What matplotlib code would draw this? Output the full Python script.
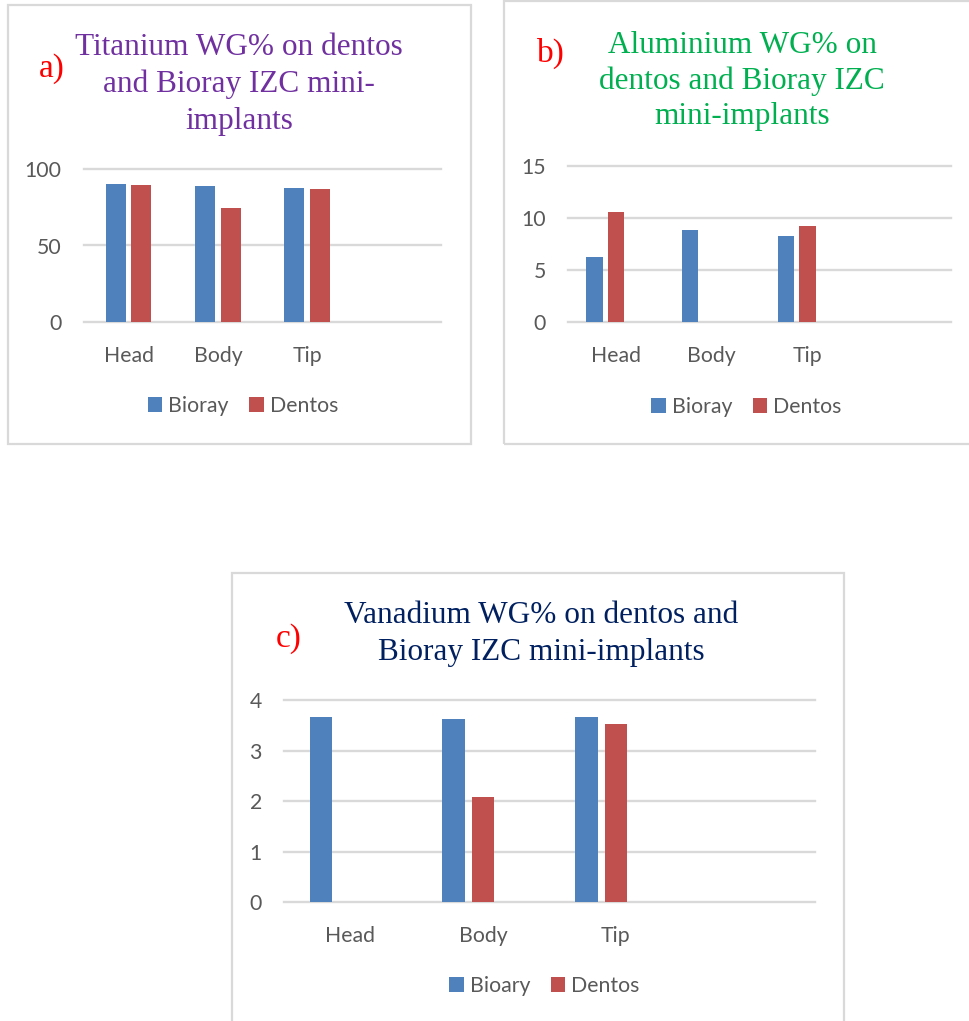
import matplotlib
matplotlib.use("Agg")
import matplotlib.pyplot as plt
from matplotlib.patches import Rectangle, Patch
import numpy as np

# ---- data ----
categories = ["Head", "Body", "Tip", ""]

ti_bioray = [90.0, 89.1, 87.8]
ti_dentos = [89.3, 74.3, 87.1]

al_bioray = [6.24, 8.83, 8.22]
al_dentos = [10.53, 0.0, 9.18]

v_bioary = [3.66, 3.62, 3.66]
v_dentos = [0.0, 2.07, 3.52]

ti_ticks = [0, 50, 100]
al_ticks = [0, 5, 10, 15]
v_ticks = [0, 1, 2, 3, 4]

# ---- style ----
W, H = 969, 1021
DPI = 100
BLUE = "#4F81BD"
RED = "#C0504D"
GRID = "#D9D9D9"
TXT = "#595959"
BORDER = "#D9D9D9"
SANS = "Lato"
SERIF = "Liberation Serif"
TICK_FS = 15.3
TITLE_FS = 22.5
TAG_FS = 24

fig = plt.figure(figsize=(W / DPI, H / DPI), dpi=DPI)
fig.patch.set_facecolor("white")


def fx(x):
    return x / W


def fy(y):
    return 1 - y / H


def add_axes_px(x0, y0, x1, y1):
    return fig.add_axes([fx(x0), fy(y1), fx(x1) - fx(x0), fy(y0) - fy(y1)])


def border_px(x0, y0, x1, y1):
    fig.patches.append(Rectangle((fx(x0), fy(y1)), fx(x1) - fx(x0), fy(y0) - fy(y1),
                                 transform=fig.transFigure, fill=False,
                                 edgecolor=BORDER, linewidth=1.6, clip_on=False))


def panel(box, series, labels, offsets, width, ticks, title_lines, title_color,
          title_cx, baselines, tag, tag_xy, legend_xy):
    ax = add_axes_px(*box)
    x = np.arange(len(categories))
    colors = [BLUE, RED]
    for vals, off, col in zip(series, offsets, colors):
        ax.bar(x[:len(vals)] + off, vals, width=width, color=col, zorder=3)
    ax.set_xlim(-0.5, len(categories) - 0.5)
    ax.set_ylim(ticks[0], ticks[-1])
    ax.set_yticks(ticks)
    ax.set_xticks(x)
    ax.set_xticklabels(categories)
    for s in ax.spines.values():
        s.set_visible(False)
    ax.yaxis.grid(True, color=GRID, linewidth=1.7, zorder=0)
    ax.set_axisbelow(True)
    ax.tick_params(axis="both", length=0, labelcolor=TXT, labelsize=TICK_FS)
    ax.tick_params(axis="y", pad=16)
    ax.tick_params(axis="x", pad=17)
    for lab in ax.get_xticklabels() + ax.get_yticklabels():
        lab.set_fontfamily(SANS)
    for line in ax.get_ygridlines():
        line.set_clip_on(False)

    for txt, by in zip(title_lines, baselines):
        fig.text(fx(title_cx), fy(by), txt, ha="center", va="baseline",
                 fontsize=TITLE_FS, color=title_color, family=SERIF)
    fig.text(fx(tag_xy[0]), fy(tag_xy[1]), tag, ha="left", va="baseline",
             fontsize=TAG_FS, color="#FF0000", family=SERIF)

    handles = [Patch(facecolor=c, edgecolor="none") for c in colors]
    ax.legend(handles, labels, loc="center", ncol=2, frameon=False,
              bbox_to_anchor=(fx(legend_xy[0]), fy(legend_xy[1])),
              bbox_transform=fig.transFigure,
              prop={"family": SANS, "size": TICK_FS}, labelcolor=TXT,
              handlelength=0.68, handleheight=0.68, handletextpad=0.3,
              columnspacing=0.95, borderaxespad=0, borderpad=0)
    return ax


# panel frames
border_px(7.5, 5.5, 470.5, 444.5)
border_px(503.5, 1.5, 972, 444.5)
border_px(232, 573, 844.5, 1030)

# a) Titanium
panel((84, 169, 441, 322), [ti_bioray, ti_dentos], ["Bioray", "Dentos"],
      [-0.142, 0.142], 0.225, ti_ticks,
      ["Titanium WG% on dentos", "and Bioray IZC mini-", "implants"], "#7030A0",
      239, [55, 92, 129], "a)", (39, 77), (243, 406))

# b) Aluminium
panel((568, 165.7, 951, 322), [al_bioray, al_dentos], ["Bioray", "Dentos"],
      [-0.2245, 0.0], 0.174, al_ticks,
      ["Aluminium WG% on", "dentos and Bioray IZC", "mini-implants"], "#00B050",
      742, [53, 88.5, 124], "b)", (536.5, 61.5), (746.5, 407))

# c) Vanadium
panel((284, 700, 815, 902), [v_bioary, v_dentos], ["Bioary", "Dentos"],
      [-0.222, 0.0], 0.171, v_ticks,
      ["Vanadium WG% on dentos and", "Bioray IZC mini-implants"], "#002060",
      541, [623, 660], "c)", (275.5, 646.5), (544.5, 986))

fig.savefig("out.png", dpi=DPI, facecolor="white")
